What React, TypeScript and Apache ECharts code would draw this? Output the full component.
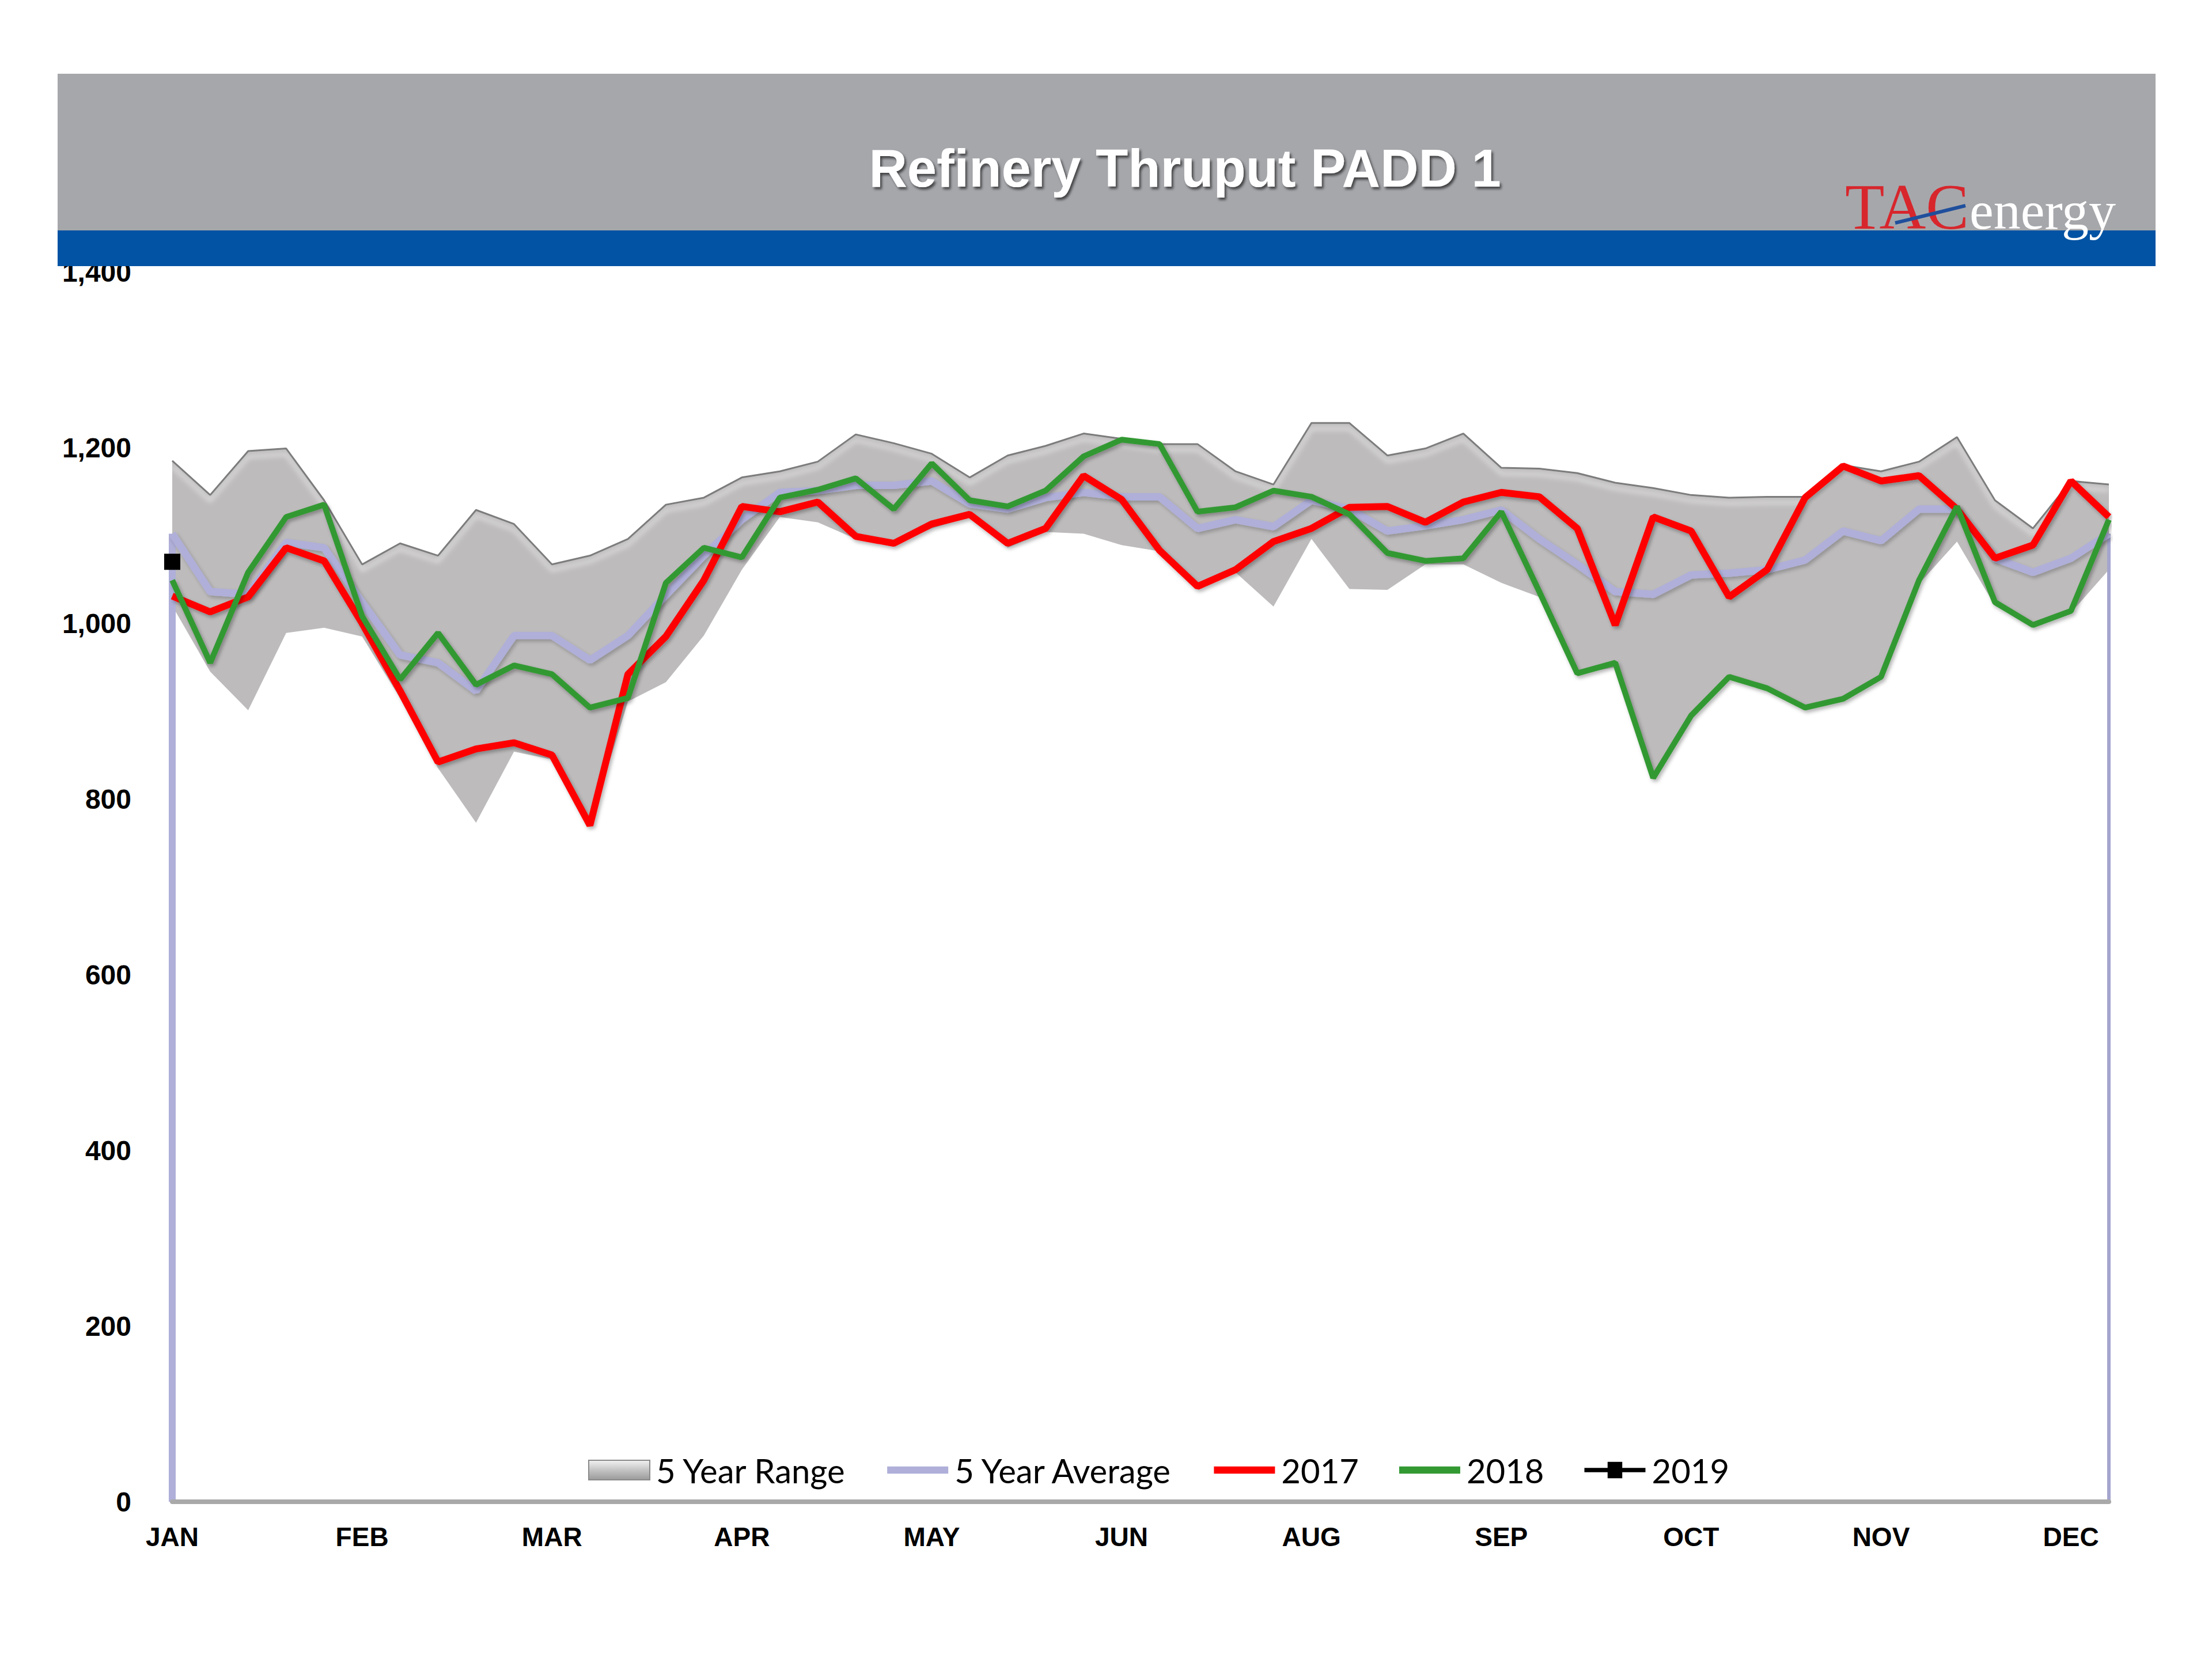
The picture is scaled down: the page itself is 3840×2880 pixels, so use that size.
import React, { useEffect, useRef } from 'react';
import * as echarts from 'echarts';

const weeks = Array.from({ length: 52 }, (_, i) => `W${i + 1}`);
const tickLabels = ['JAN', 'FEB', 'MAR', 'APR', 'MAY', 'JUN', 'AUG', 'SEP', 'OCT', 'NOV', 'DEC'];

const rangeLow = [
  1020, 945, 901, 989, 995, 985, 915, 835, 773, 854, 845, 770, 911,
  933, 986, 1061, 1121, 1115, 1096, 1089, 1108, 1121, 1086, 1104, 1102, 1089,
  1082, 1039, 1058, 1019, 1096, 1039, 1038, 1067, 1067, 1046, 1030, 942, 950,
  822, 895, 939, 926, 904, 914, 939, 1045, 1093, 1020, 996, 1012, 1061,
];
const rangeHigh = [
  1185, 1146, 1196, 1199, 1140, 1067, 1091, 1077, 1129, 1113, 1067, 1077, 1096,
  1135, 1143, 1166, 1173, 1184, 1215, 1205, 1193, 1166, 1191, 1202, 1216, 1210,
  1204, 1204, 1173, 1158, 1228, 1228, 1191, 1199, 1216, 1177, 1176, 1171, 1160,
  1154, 1146, 1143, 1144, 1144, 1180, 1173, 1184, 1212, 1140, 1108, 1162, 1158,
];
const avg5 = [
  1102, 1036, 1033, 1092, 1086, 1024, 964, 955, 923, 986, 986, 958, 986,
  1032, 1077, 1118, 1149, 1151, 1157, 1157, 1162, 1136, 1130, 1143, 1149, 1144,
  1144, 1108, 1118, 1110, 1140, 1130, 1105, 1111, 1118, 1129, 1096, 1067, 1036,
  1033, 1055, 1057, 1061, 1072, 1105, 1094, 1130, 1130, 1074, 1058, 1074, 1102,
];
const y2017 = [
  1031, 1013, 1030, 1086, 1071, 1000, 923, 842, 857, 864, 850, 770, 942,
  985, 1049, 1133, 1127, 1138, 1099, 1091, 1113, 1124, 1091, 1108, 1168, 1141,
  1083, 1042, 1061, 1093, 1108, 1132, 1133, 1115, 1138, 1149, 1144, 1108, 998,
  1121, 1105, 1030, 1061, 1143, 1179, 1162, 1168, 1130, 1074, 1089, 1162, 1121,
];
const y2018 = [
  1049, 955, 1058, 1121, 1135, 1008, 936, 989, 930, 952, 942, 904, 915,
  1046, 1086, 1075, 1143, 1152, 1165, 1130, 1182, 1140, 1133, 1151, 1190, 1209,
  1204, 1127, 1132, 1151, 1144, 1124, 1080, 1071, 1074, 1127, 1036, 943, 955,
  824, 895, 939, 926, 904, 914, 939, 1049, 1133, 1024, 998, 1014, 1118,
];
const y2019 = [1070];

const rangeSpan = rangeHigh.map((h, i) => h - rangeLow[i]);
// the average line drops to the axis at both ends of the year
const avgLeftEdge = [[weeks[0], 0], [weeks[0], avg5[0]]];
const avgRightEdge = [[weeks[51], avg5[51]], [weeks[51], 0]];

const lineShadow = {
  shadowColor: 'rgba(0,0,0,0.3)',
  shadowBlur: 6,
  shadowOffsetX: 3,
  shadowOffsetY: 4,
};

const lavender = '#afafd9';

const option: any = {
  animation: false,
  backgroundColor: '#ffffff',
  grid: { left: 299, right: 179, top: 472, bottom: 273, containLabel: false },
  xAxis: {
    type: 'category',
    data: weeks,
    boundaryGap: false,
    axisTick: { show: false },
    axisLine: {
      show: true,
      onZero: false,
      lineStyle: { color: '#a9a9a9', width: 8 },
    },
    axisLabel: {
      interval: (index: number) => index % 5 === 0,
      formatter: (_v: string, index: number) => (index % 5 === 0 ? tickLabels[index / 5] || '' : ''),
      color: '#000',
      fontFamily: '"Liberation Sans", Arial, sans-serif',
      fontWeight: 'bold',
      fontSize: 46,
      margin: 38,
    },
    splitLine: { show: false },
    z: 10,
  },
  yAxis: {
    type: 'value',
    min: 0,
    max: 1400,
    interval: 200,
    axisLine: { show: false },
    axisTick: { show: false },
    splitLine: { show: false },
    axisLabel: {
      formatter: (v: number) => v.toLocaleString('en-US'),
      color: '#000',
      fontFamily: '"Liberation Sans", Arial, sans-serif',
      fontWeight: 'bold',
      fontSize: 48,
      margin: 71,
    },
  },
  legend: {
    left: 1016,
    top: 2518,
    itemWidth: 106,
    itemHeight: 34,
    itemGap: 70,
    symbolKeepAspect: true,
    textStyle: {
      fontFamily: 'Lato, "Open Sans", sans-serif',
      fontSize: 58,
      color: '#000',
      padding: [0, 0, 0, 6],
    },
    data: [
      {
        name: '5 Year Range',
        icon: 'rect',
        itemStyle: {
          color: new echarts.graphic.LinearGradient(0, 0, 0, 1, [
            { offset: 0, color: '#f2f2f2' },
            { offset: 0.5, color: '#c4c4c4' },
            { offset: 1, color: '#9a9a9a' },
          ]),
          borderColor: '#8a8a8a',
          borderWidth: 2,
        },
      },
      { name: '5 Year Average', icon: 'path://M0,0 L100,0 L100,12 L0,12 Z', itemStyle: { color: lavender } },
      { name: '2017', icon: 'path://M0,0 L100,0 L100,12 L0,12 Z', itemStyle: { color: '#ff0000' } },
      { name: '2018', icon: 'path://M0,0 L100,0 L100,12 L0,12 Z', itemStyle: { color: '#339933' } },
      {
        name: '2019',
        icon: 'path://M0,10 L38,10 L38,0 L62,0 L62,10 L100,10 L100,17 L62,17 L62,27 L38,27 L38,17 L0,17 Z',
        itemStyle: { color: '#000' },
      },
    ],
  },
  series: [
    {
      name: 'lower',
      type: 'line',
      stack: 'range',
      data: rangeLow,
      symbol: 'none',
      silent: true,
      lineStyle: { opacity: 0, width: 0 },
      z: 1,
    },
    {
      name: '5 Year Range',
      type: 'line',
      stack: 'range',
      data: rangeSpan,
      symbol: 'none',
      silent: true,
      lineStyle: {
        color: '#7b7b7b',
        width: 3,
        shadowColor: 'rgba(255,255,255,0.95)',
        shadowBlur: 10,
        shadowOffsetY: 10,
      },
      areaStyle: { color: '#bdbbbc', opacity: 1 },
      z: 2,
    },
    {
      name: 'avgLeftEdge',
      type: 'line',
      data: avgLeftEdge,
      symbol: 'none',
      silent: true,
      clip: false,
      lineStyle: { color: lavender, width: 12 },
      z: 3,
    },
    {
      name: 'avgRightEdge',
      type: 'line',
      data: avgRightEdge,
      symbol: 'none',
      silent: true,
      clip: false,
      lineStyle: { color: '#a5a5cf', width: 6 },
      z: 3,
    },
    {
      name: '5 Year Average',
      type: 'line',
      data: avg5,
      symbol: 'none',
      silent: true,
      lineStyle: { color: lavender, width: 13, ...lineShadow, shadowColor: 'rgba(0,0,0,0.22)' },
      z: 3,
    },
    {
      name: '2017',
      type: 'line',
      data: y2017,
      symbol: 'none',
      silent: true,
      lineStyle: { color: '#ff0000', width: 12, ...lineShadow },
      z: 4,
    },
    {
      name: '2018',
      type: 'line',
      data: y2018,
      symbol: 'none',
      silent: true,
      lineStyle: { color: '#339933', width: 10, ...lineShadow },
      z: 5,
    },
    {
      name: '2019',
      type: 'line',
      data: y2019,
      symbol: 'rect',
      symbolSize: 28,
      showSymbol: true,
      silent: true,
      clip: false,
      itemStyle: { color: '#000' },
      lineStyle: { color: '#000', width: 8 },
      z: 6,
    },
  ],
  graphic: [
    {
      type: 'rect',
      z: 100,
      shape: { x: 100, y: 128, width: 3642, height: 274 },
      style: { fill: '#a6a7ab' },
    },
    {
      type: 'rect',
      z: 100,
      shape: { x: 100, y: 400, width: 3642, height: 62 },
      style: { fill: '#0353a4' },
    },
    {
      type: 'text',
      z: 101,
      x: 2057,
      y: 292,
      style: {
        text: 'Refinery Thruput PADD 1',
        fill: '#ffffff',
        fontFamily: '"Liberation Sans", Arial, sans-serif',
        fontWeight: 'bold',
        fontSize: 92,
        align: 'center',
        verticalAlign: 'middle',
        textShadowColor: 'rgba(0,0,0,0.6)',
        textShadowBlur: 4,
        textShadowOffsetX: 3,
        textShadowOffsetY: 4,
      },
    },
    {
      type: 'text',
      z: 101,
      x: 3203,
      y: 359,
      style: {
        text: 'TAC',
        fill: '#d7262c',
        fontFamily: '"Liberation Serif", "Times New Roman", serif',
        fontSize: 112,
        align: 'left',
        verticalAlign: 'middle',
      },
    },
    {
      type: 'text',
      z: 101,
      x: 3419,
      y: 365,
      style: {
        text: 'energy',
        fill: '#ffffff',
        fontFamily: '"Liberation Serif", "Times New Roman", serif',
        fontSize: 94,
        align: 'left',
        verticalAlign: 'middle',
      },
    },
    {
      type: 'line',
      z: 102,
      shape: { x1: 3290, y1: 387, x2: 3412, y2: 357 },
      style: { stroke: '#1f4f9c', lineWidth: 6 },
    },
  ],
};

export default function App() {
  const ref = useRef<HTMLDivElement>(null);
  useEffect(() => {
    if (!ref.current) return;
    const chart = echarts.init(ref.current, null, { renderer: 'svg' });
    chart.setOption(option);
    return () => chart.dispose();
  }, []);
  return (
    <div
      ref={ref}
      style={{ position: 'absolute', left: 0, top: 0, width: 3840, height: 2880, background: '#ffffff' }}
    />
  );
}
